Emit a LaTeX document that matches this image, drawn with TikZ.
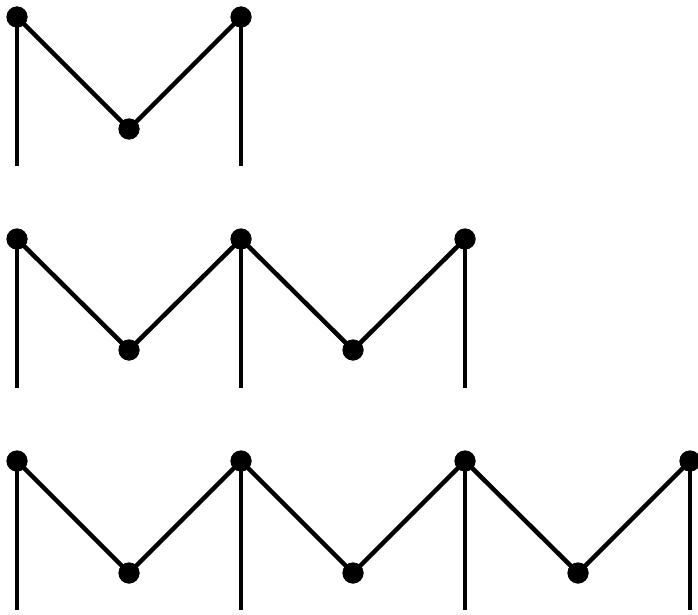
\documentclass[tikz,border=0pt]{standalone}
\begin{document}
\begin{tikzpicture}[x=1pt,y=-1pt,
  dot/.style={circle,fill=black,inner sep=0pt,minimum size=21pt},
  edge/.style={line width=4.5pt,black}]
\useasboundingbox (0,0) rectangle (698,615);
% Row 1
\node[dot] (a1) at (17,17) {};
\node[dot] (a2) at (241,17) {};
\node[dot] (b1) at (129,129) {};
\coordinate (ea1) at (17,166);
\coordinate (ea2) at (241,166);
\draw[edge] (a1.center) -- (b1.center) -- (a2.center);
\draw[edge] (a1.center) -- (ea1);
\draw[edge] (a2.center) -- (ea2);
% Row 2
\node[dot] (c1) at (17,239) {};
\node[dot] (c2) at (241,239) {};
\node[dot] (c3) at (465,239) {};
\node[dot] (d1) at (129,350) {};
\node[dot] (d2) at (353,350) {};
\coordinate (ec1) at (17,388);
\coordinate (ec2) at (241,388);
\coordinate (ec3) at (465,388);
\draw[edge] (c1.center) -- (d1.center) -- (c2.center) -- (d2.center) -- (c3.center);
\draw[edge] (c1.center) -- (ec1);
\draw[edge] (c2.center) -- (ec2);
\draw[edge] (c3.center) -- (ec3);
% Row 3
\node[dot] (f1) at (17,461) {};
\node[dot] (f2) at (241,461) {};
\node[dot] (f3) at (465,461) {};
\node[dot] (f4) at (690,461) {};
\node[dot] (g1) at (129,573) {};
\node[dot] (g2) at (353,573) {};
\node[dot] (g3) at (578,573) {};
\coordinate (ef1) at (17,610);
\coordinate (ef2) at (241,610);
\coordinate (ef3) at (465,610);
\coordinate (ef4) at (690,610);
\draw[edge] (f1.center) -- (g1.center) -- (f2.center) -- (g2.center) -- (f3.center) -- (g3.center) -- (f4.center);
\draw[edge] (f1.center) -- (ef1);
\draw[edge] (f2.center) -- (ef2);
\draw[edge] (f3.center) -- (ef3);
\draw[edge] (f4.center) -- (ef4);
% redraw dots on top
\foreach \n in {a1,a2,b1,c1,c2,c3,d1,d2,f1,f2,f3,f4,g1,g2,g3}
  \fill (\n.center) circle (10.5pt);
\end{tikzpicture}
\end{document}
